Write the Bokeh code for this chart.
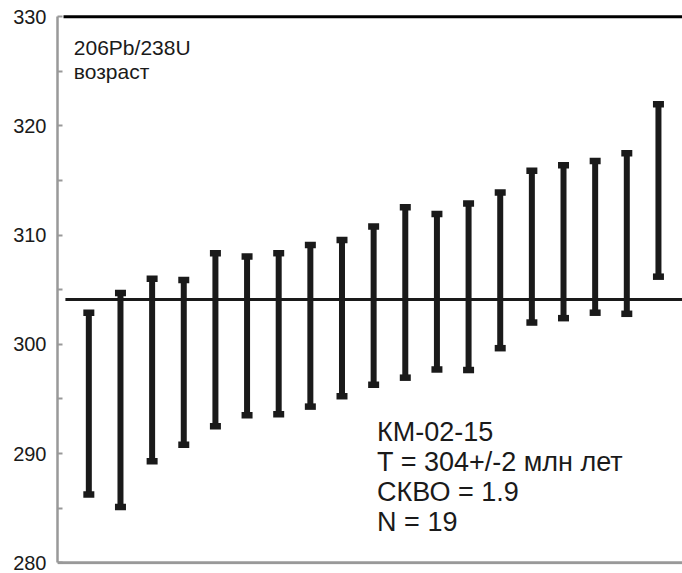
from bokeh.plotting import figure
from bokeh.models import Range1d, FixedTicker, Label
from bokeh.embed import file_html
from bokeh.resources import INLINE

# 206Pb/238U ages of zircon spots, sorted, with their 2-sigma limits (Ma)
spot = list(range(1, 20))
age_low = [286.25, 285.1, 289.3, 290.8, 292.5, 293.5, 293.6, 294.3, 295.25, 296.3,
           296.95, 297.7, 297.65, 299.65, 302.0, 302.4, 302.9, 302.8, 306.2]
age_high = [302.9, 304.7, 306.0, 305.9, 308.35, 308.05, 308.35, 309.1, 309.55, 310.8,
            312.55, 311.95, 312.9, 313.9, 315.9, 316.4, 316.8, 317.5, 322.0]
mean_age = 304.1
y_ticks = [280, 290, 300, 310, 320, 330]
y_minor = [285, 295, 305, 315, 325]

sample_lines = ["КМ-02-15", "T = 304+/-2 млн лет", "СКВО = 1.9", "N = 19"]
axis_title = ["206Pb/238U", "возраст"]

INK = "#1a1a1a"
GREY = "#999999"
FONT = "Liberation Sans"

p = figure(width=682, height=573, output_backend="svg", toolbar_location=None,
           x_range=Range1d(0.01, 19.76), y_range=Range1d(279.84, 330.21),
           min_border_left=57, min_border_right=0, min_border_top=14,
           min_border_bottom=9)
p.outline_line_color = None
p.grid.visible = False
p.xaxis.visible = False
p.background_fill_color = "white"
p.border_fill_color = "white"

ya = p.yaxis[0]
ya.ticker = FixedTicker(ticks=y_ticks, minor_ticks=y_minor)
ya.bounds = (280, 330)
ya.axis_line_color = GREY
ya.axis_line_width = 2.5
ya.major_tick_line_color = GREY
ya.minor_tick_line_color = GREY
ya.major_tick_line_width = 2
ya.minor_tick_line_width = 2
ya.major_tick_in = 5
ya.major_tick_out = 0
ya.minor_tick_in = 5
ya.minor_tick_out = 0
ya.major_label_standoff = 11
ya.major_label_text_font = FONT
ya.major_label_text_font_size = "20px"
ya.major_label_text_color = INK

# bottom baseline and top rule
x_left, x_right = 0.01, 19.76
p.segment(x0=[x_left], y0=[280], x1=[x_right], y1=[280], line_color=GREY, line_width=3)
p.segment(x0=[0.2], y0=[330], x1=[x_right], y1=[330], line_color="black", line_width=3)

# weighted mean age
p.segment(x0=[0.26], y0=[mean_age], x1=[x_right], y1=[mean_age], line_color=INK, line_width=3)

# error bars
p.segment(x0=spot, y0=age_low, x1=spot, y1=age_high, line_color=INK, line_width=6)
p.rect(x=spot, y=age_low, width=11, height=6.5, width_units="screen", height_units="screen",
       fill_color=INK, line_color=None)
p.rect(x=spot, y=age_high, width=11, height=6.5, width_units="screen", height_units="screen",
       fill_color=INK, line_color=None)

for i, t in enumerate(axis_title):
    p.add_layout(Label(x=0.526, y=327.2 - i * 2.22, text=t, text_font=FONT,
                       text_font_size="21px", text_color=INK, text_baseline="alphabetic"))

for i, t in enumerate(sample_lines):
    p.add_layout(Label(x=10.11, y=292.0 - i * 2.747, text=t, text_font=FONT,
                       text_font_size="27px", text_color=INK, text_baseline="alphabetic"))

open("out.html", "w").write(file_html(p, INLINE))
